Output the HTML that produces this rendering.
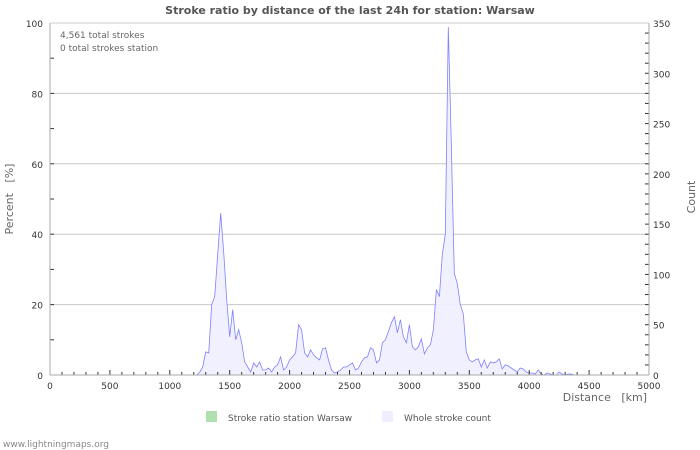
<!DOCTYPE html>
<html><head><meta charset="utf-8"><style>
body{margin:0;background:#fff;}
svg{display:block;font-family:"DejaVu Sans","Liberation Sans",sans-serif;}
</style></head><body>
<svg id="chart" width="700" height="450" viewBox="0 0 700 450">
<text x="350" y="14" text-anchor="middle" font-size="11" font-weight="bold" fill="#555">Stroke ratio by distance of the last 24h for station: Warsaw</text>
<g id="grid"></g>
<g id="series"></g>
<g id="axes"></g>
<text x="60" y="38" font-size="9" fill="#666">4,561 total strokes</text>
<text x="60" y="51" font-size="9" fill="#666">0 total strokes station</text>
<text x="647" y="401" text-anchor="end" font-size="11" fill="#666">Distance &#160; [km]</text>
<text transform="translate(13,199) rotate(-90)" text-anchor="middle" font-size="11" fill="#666">Percent &#160; [%]</text>
<text transform="translate(695,197) rotate(-90)" text-anchor="middle" font-size="11" fill="#666">Count</text>
<rect x="206" y="411" width="11" height="11" fill="#b0e0b0"/>
<text x="228" y="421" font-size="9" fill="#555">Stroke ratio station Warsaw</text>
<rect x="382" y="411" width="11" height="11" fill="#eeeeff"/>
<text x="404" y="421" font-size="9" fill="#555">Whole stroke count</text>
<text x="3" y="447" font-size="9" fill="#888">www.lightningmaps.org</text>
</svg>
<script>
const xTicks=[0,500,1000,1500,2000,2500,3000,3500,4000,4500,5000];
const leftTicks=[0,20,40,60,80,100];
const rightTicks=[0,50,100,150,200,250,300,350];
const distances=[1200,1225,1250,1275,1300,1325,1350,1375,1400,1425,1450,1475,1500,1525,1550,1575,1600,1625,1650,1675,1700,1725,1750,1775,1800,1825,1850,1875,1900,1925,1950,1975,2000,2025,2050,2075,2100,2125,2150,2175,2200,2225,2250,2275,2300,2325,2350,2375,2400,2425,2450,2475,2500,2525,2550,2575,2600,2625,2650,2675,2700,2725,2750,2775,2800,2825,2850,2875,2900,2925,2950,2975,3000,3025,3050,3075,3100,3125,3150,3175,3200,3225,3250,3275,3300,3325,3350,3375,3400,3425,3450,3475,3500,3525,3550,3575,3600,3625,3650,3675,3700,3725,3750,3775,3800,3825,3850,3875,3900,3925,3950,3975,4000,4025,4050,4075,4100,4125,4150,4175,4200,4225,4250,4275,4300,4325,4350,4375,4400];
const counts=[0,0,3,8,23,22,70,78,120,161,122,75,38,65,35,45,32,13,8,3,12,8,13,5,5,7,3,8,10,18,5,8,15,18,22,50,45,22,18,25,20,17,15,26,27,15,5,2,3,5,8,8,10,12,5,7,13,17,18,27,25,12,15,32,35,43,52,58,42,55,38,32,50,28,25,28,36,21,27,30,45,85,78,120,140,346,230,101,91,70,61,23,15,13,15,16,8,15,7,13,12,13,16,6,10,9,7,5,3,7,6,3,2,2,1,5,1,0,2,1,0,0,3,1,0,1,1,0,0];
const X0=50,X1=649,Y0=375,Y1=23,NS='http://www.w3.org/2000/svg';
const xs=d=>X0+(d/5000)*(X1-X0);
const yl=p=>Y0-(p/100)*(Y0-Y1);
const yr=c=>Y0-(c/350)*(Y0-Y1);
function mk(tag,attrs,parent){const e=document.createElementNS(NS,tag);for(const k in attrs)e.setAttribute(k,attrs[k]);parent.appendChild(e);return e;}
const grid=document.getElementById('grid'),axes=document.getElementById('axes'),series=document.getElementById('series');
leftTicks.forEach(t=>{if(t>0){const l=mk('line',{x1:X0,x2:X1,y1:yl(t),y2:yl(t),stroke:'#c8c8c8','stroke-width':1},grid);

}
const tx=mk('text',{x:X0-7,y:yl(t)+4,'text-anchor':'end','font-size':9,fill:'#333'},axes);tx.textContent=t;


});
for(let p=0;p<=100;p+=10){mk('line',{x1:X0,x2:X0+4,y1:yl(p),y2:yl(p),stroke:'#333'},axes);}
rightTicks.forEach(t=>{const tx=mk('text',{x:X1+4,y:yr(t)+4,'font-size':9,fill:'#333'},axes);tx.textContent=t;

});
for(let c=0;c<=350;c+=10){mk('line',{x1:X1-4,x2:X1,y1:yr(c),y2:yr(c),stroke:'#333'},axes);}
for(let d=0;d<=5000;d+=100){const L=d%500===0?5:3;mk('line',{x1:xs(d),x2:xs(d),y1:Y0,y2:Y0-L,stroke:'#333'},axes);}
xTicks.forEach(t=>{const tx=mk('text',{x:xs(t),y:Y0+14,'text-anchor':'middle','font-size':9,fill:'#333'},axes);tx.textContent=t;

});
mk('line',{x1:X0,x2:X0,y1:Y1,y2:Y0,stroke:'#aaa'},axes);
mk('line',{x1:X1,x2:X1,y1:Y1,y2:Y0,stroke:'#aaa'},axes);
mk('line',{x1:X0,x2:X1,y1:Y0,y2:Y0,stroke:'#aaa'},axes);
mk('line',{x1:X0,x2:X1,y1:Y1,y2:Y1,stroke:'#ccc'},axes);
let pts=distances.map((d,i)=>xs(d).toFixed(1)+','+yr(counts[i]).toFixed(1));
const area=mk('polygon',{points:xs(distances[0])+','+Y0+' '+pts.join(' ')+' '+xs(distances[distances.length-1])+','+Y0,fill:'#eeeeff',opacity:0.9},series);


const line=mk('polyline',{points:pts.join(' '),fill:'none',stroke:'#8080ff','stroke-width':0.8},series);


</script>
</body></html>
